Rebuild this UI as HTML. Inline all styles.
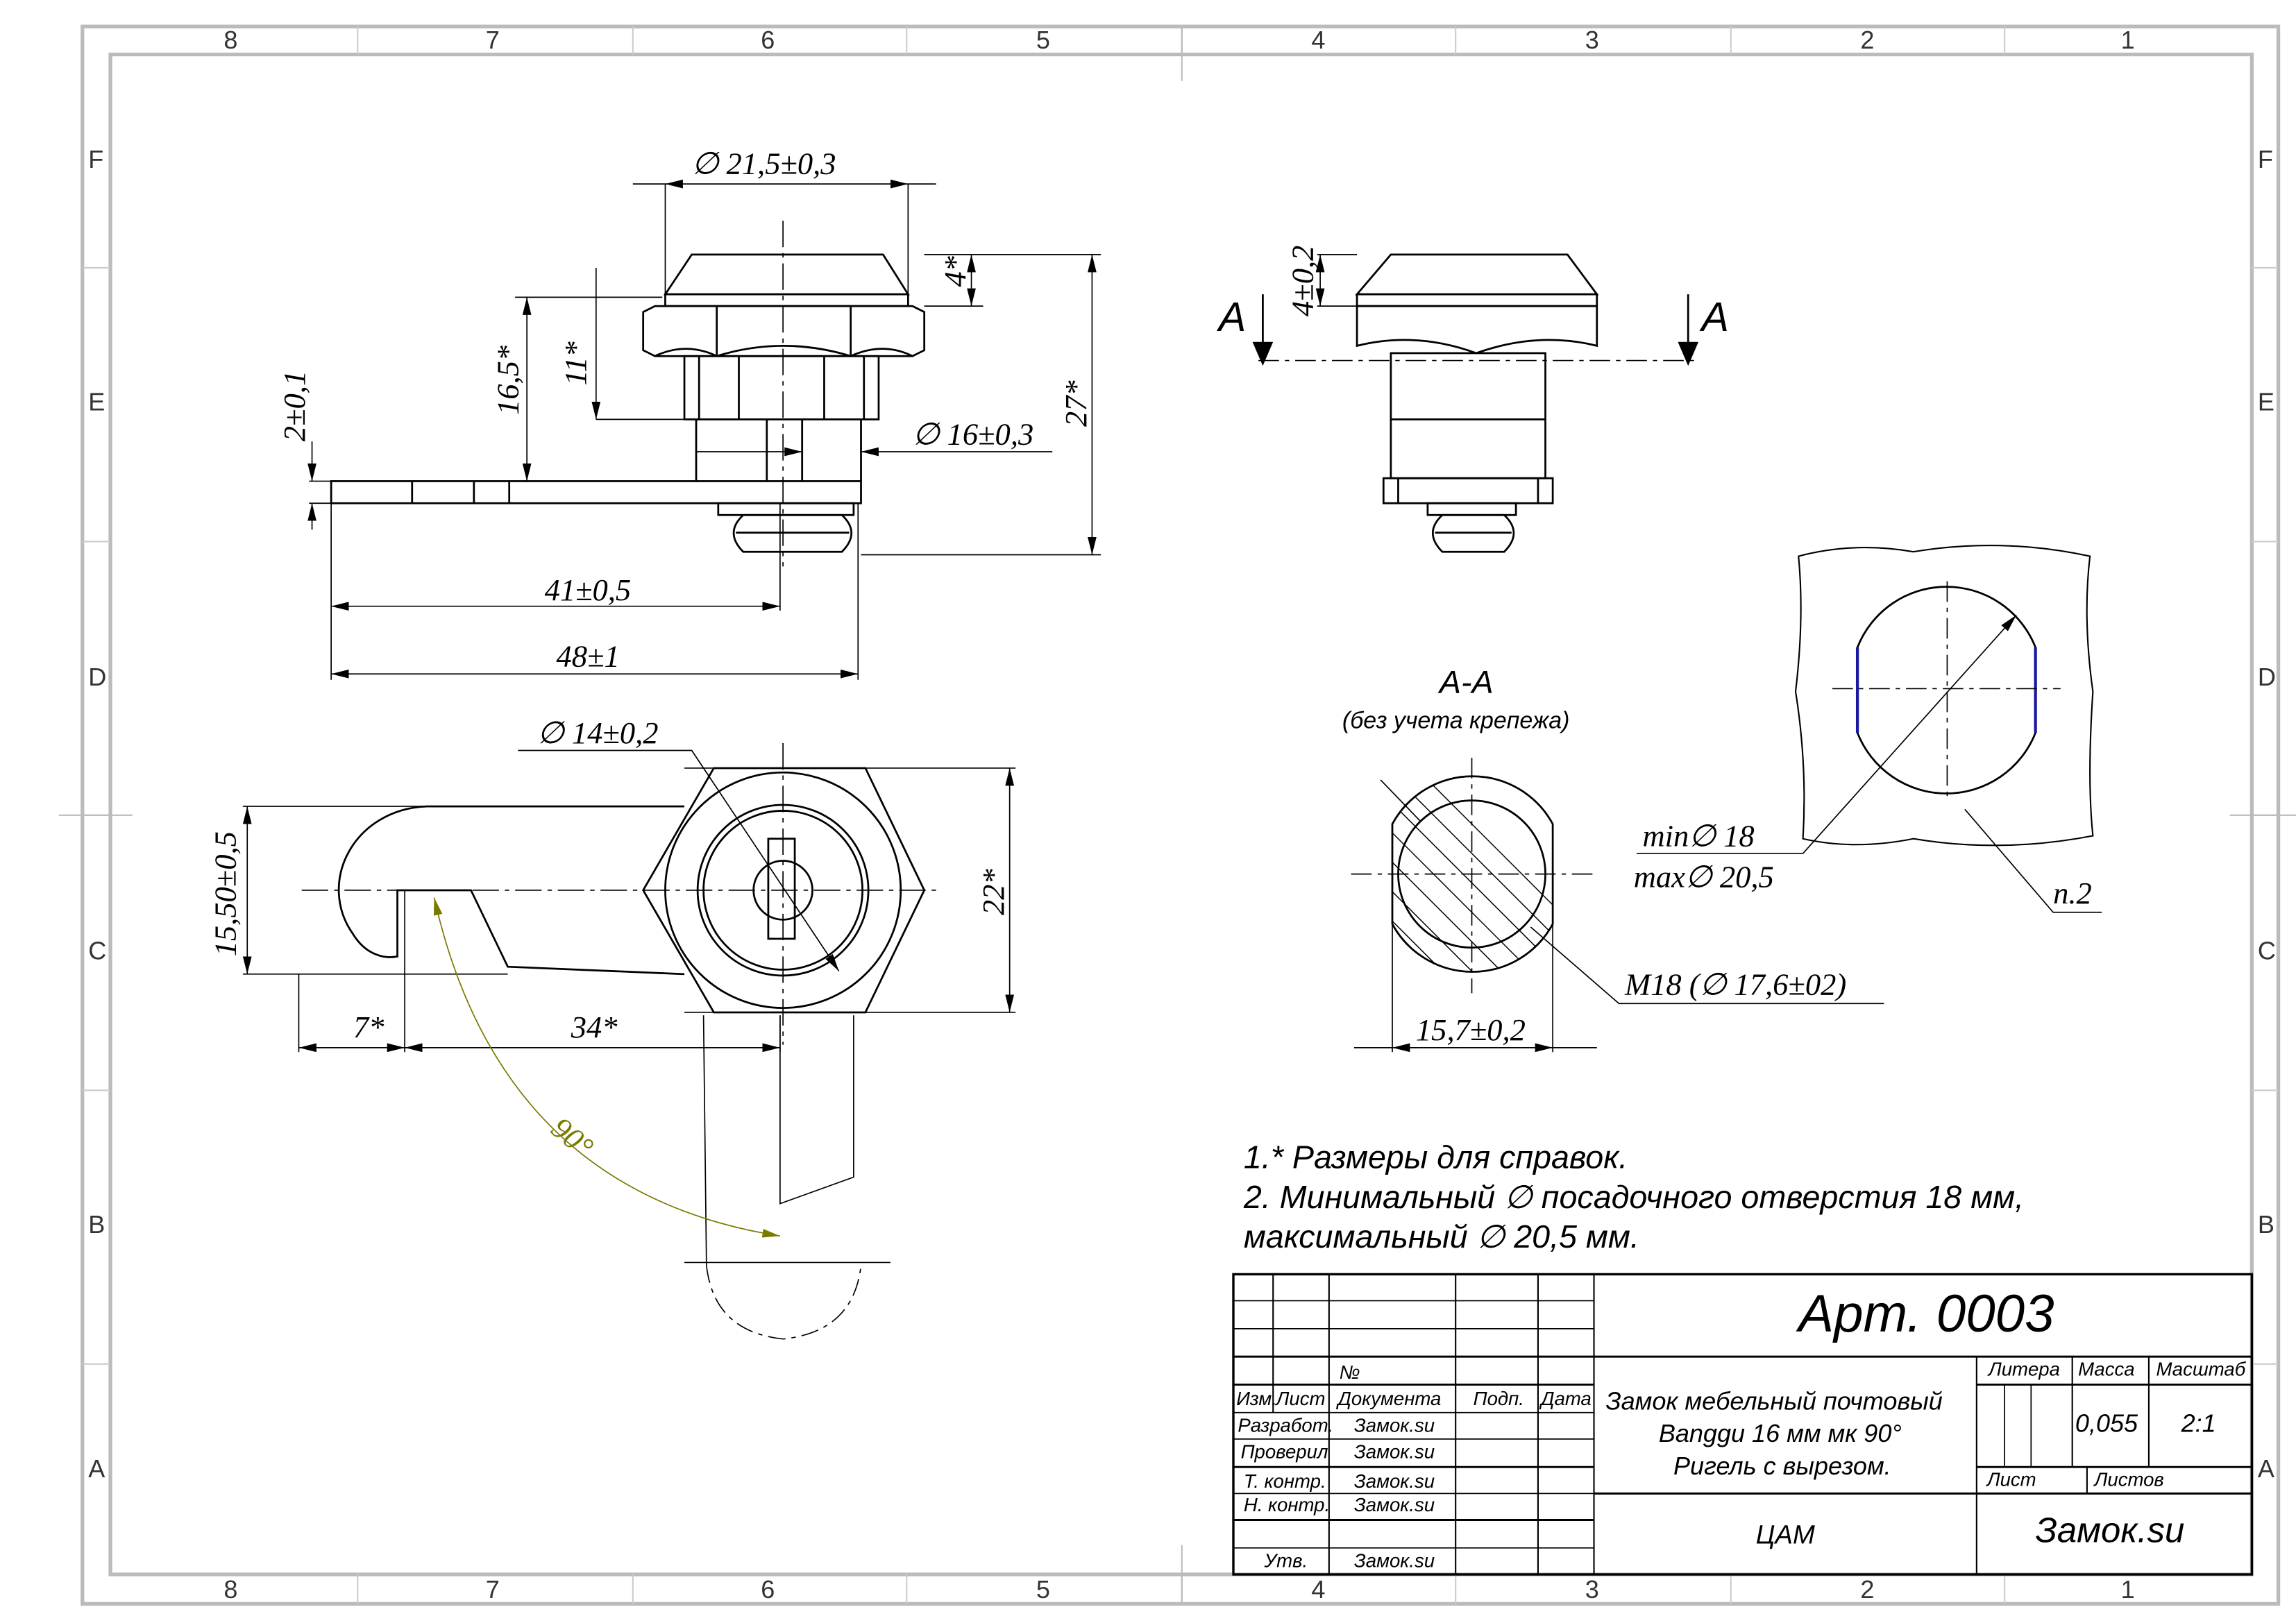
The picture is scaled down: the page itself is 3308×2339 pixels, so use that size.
<!DOCTYPE html>
<html><head><meta charset="utf-8"><style>
html,body{margin:0;padding:0;background:#fff;}
svg{display:block;}
text{font-family:"Liberation Sans",sans-serif;font-style:italic;fill:#000;}
.d{font-family:"Liberation Serif",serif;font-style:italic;font-size:21px;}
.z{font-style:normal;font-size:17px;fill:#333;}
.t{font-size:13px;}
</style></head><body>
<svg width="3308" height="2339" viewBox="0 0 1560 1103" xmlns="http://www.w3.org/2000/svg">
<defs>
<marker id="ar" markerWidth="12" markerHeight="6" refX="12" refY="3" orient="auto-start-reverse" markerUnits="userSpaceOnUse"><path d="M0 0L12 3L0 6Z" fill="#000"/></marker>
<marker id="ag" markerWidth="12" markerHeight="6" refX="12" refY="3" orient="auto-start-reverse" markerUnits="userSpaceOnUse"><path d="M0 0L12 3L0 6Z" fill="#7a7a00"/></marker>
</defs>
<rect width="1560" height="1103" fill="#fff"/>
<g fill="none" stroke="#bbb" stroke-width="2.5">
<rect x="56" y="18" width="1492" height="1072"/>
<rect x="75" y="37" width="1455" height="1033"/>
</g>
<g stroke="#ccc" stroke-width="1">
<path d="M243 18V37M430 18V37M616 18V37M803 18V37M989 18V37M1176 18V37M1362 18V37"/>
<path d="M243 1070V1090M430 1070V1090M616 1070V1090M803 1070V1090M989 1070V1090M1176 1070V1090M1362 1070V1090"/>
<path d="M56 182H75M56 368H75M56 554H75M56 741H75M56 927H75M1530 182H1548M1530 368H1548M1530 554H1548M1530 741H1548M1530 927H1548"/>
<path d="M803 18V55M803 1050V1090M40 554H90M1515 554H1560" stroke="#bbb"/>
</g>
<g class="z">
<text x="152" y="33" class="z">8</text><text x="330" y="33" class="z">7</text><text x="517" y="33" class="z">6</text><text x="704" y="33" class="z">5</text><text x="891" y="33" class="z">4</text><text x="1077" y="33" class="z">3</text><text x="1264" y="33" class="z">2</text><text x="1441" y="33" class="z">1</text>
<text x="152" y="1086" class="z">8</text><text x="330" y="1086" class="z">7</text><text x="517" y="1086" class="z">6</text><text x="704" y="1086" class="z">5</text><text x="891" y="1086" class="z">4</text><text x="1077" y="1086" class="z">3</text><text x="1264" y="1086" class="z">2</text><text x="1441" y="1086" class="z">1</text>
<text x="60" y="114" class="z">F</text><text x="60" y="279" class="z">E</text><text x="60" y="466" class="z">D</text><text x="60" y="652" class="z">C</text><text x="60" y="838" class="z">B</text><text x="60" y="1004" class="z">A</text>
<text x="1534" y="114" class="z">F</text><text x="1534" y="279" class="z">E</text><text x="1534" y="466" class="z">D</text><text x="1534" y="652" class="z">C</text><text x="1534" y="838" class="z">B</text><text x="1534" y="1004" class="z">A</text>
</g>

<!-- Top-left view -->
<g fill="none" stroke="#000" stroke-width="1.3">
<path d="M452 200L470 173H600L617 200Z"/>
<rect x="452" y="200" width="165" height="8"/>
<path d="M437 212L445 208H620L628 212V238L620 242H445L437 238Z"/>
<path d="M487 208V242M578 208V242"/>
<path d="M445 242Q466 232 487 242Q532 228 578 242Q600 232 620 242"/>
<rect x="465" y="242" width="132" height="43"/>
<path d="M475 242V285M502 242V285M560 242V285M587 242V285"/>
<path d="M473 285V327M521 285V327M545 285V327M585 285V327"/>
<rect x="225" y="327" width="360" height="15"/>
<path d="M280 327V342M322 327V342M346 327V342"/>
<rect x="488" y="342" width="92" height="8"/>
<path d="M505 350H572Q585 362 572 375H505Q492 362 505 350Z M500 362H577"/>
</g>
<g stroke="#000" stroke-width="0.8" fill="none">
<path d="M532 150V385" stroke-dasharray="18 4 3 4"/>
<path d="M452 125V200M617 125V200"/>
<path d="M430 125H452M617 125H636"/>
<path d="M452 125H617" marker-start="url(#ar)" marker-end="url(#ar)"/>
<path d="M628 173H748M628 208H668"/>
<path d="M660 173V208" marker-start="url(#ar)" marker-end="url(#ar)"/>
<path d="M742 173V377" marker-start="url(#ar)" marker-end="url(#ar)"/>
<path d="M585 377H748M350 202H450M405 285H470M210 327H225M210 342H225"/>
<path d="M358 202V327" marker-start="url(#ar)" marker-end="url(#ar)"/>
<path d="M405 182V202M405 202V285" marker-end="url(#ar)"/>
<path d="M212 300V327" marker-end="url(#ar)"/>
<path d="M212 360V342" marker-end="url(#ar)"/>
<path d="M715 307H585" marker-end="url(#ar)"/>
<path d="M545 307H473" marker-start="url(#ar)"/>
<path d="M225 342V462M583 342V462M530 342V415"/>
<path d="M225 412H530" marker-start="url(#ar)" marker-end="url(#ar)"/>
<path d="M225 458H583" marker-start="url(#ar)" marker-end="url(#ar)"/>
</g>
<text class="d" x="470" y="118">∅ 21,5±0,3</text>
<text class="d" transform="translate(656,195) rotate(-90)">4*</text>
<text class="d" transform="translate(738,290) rotate(-90)">27*</text>
<text class="d" transform="translate(352,282) rotate(-90)">16,5*</text>
<text class="d" transform="translate(398,262) rotate(-90)">11*</text>
<text class="d" transform="translate(207,300) rotate(-90)">2±0,1</text>
<text class="d" x="620" y="302">∅ 16±0,3</text>
<text class="d" x="370" y="408">41±0,5</text>
<text class="d" x="378" y="453">48±1</text>

<!-- Top-right view -->
<g fill="none" stroke="#000" stroke-width="1.3">
<path d="M922 200L945 173H1065L1085 200Z"/>
<rect x="922" y="200" width="163" height="8"/>
<path d="M922 208H1085V235Q1045 225 1003 240Q962 225 922 235Z"/>
<rect x="945" y="240" width="105" height="85"/>
<path d="M945 285H1050"/>
<rect x="940" y="325" width="115" height="17"/>
<path d="M950 325V342M1045 325V342"/>
<rect x="970" y="342" width="60" height="8"/>
<path d="M980 350H1022Q1035 362 1022 375H980Q967 362 980 350Z M975 362H1027"/>
</g>
<path d="M855 245H1155" stroke="#000" stroke-width="0.8" stroke-dasharray="14 4 3 4"/>
<path d="M895 173H922M895 208H922" stroke="#000" stroke-width="0.8"/>
<path d="M897 173V208" stroke="#000" stroke-width="0.8" marker-start="url(#ar)" marker-end="url(#ar)"/>
<path d="M858 200V245M1147 200V245M852 233L858 247L864 233ZM1141 233L1147 247L1153 233Z" stroke="#000" stroke-width="1.3" fill="#000"/>
<text x="828" y="225" style="font-size:28px">A</text>
<text x="1156" y="225" style="font-size:28px">A</text>
<text class="d" transform="translate(892,215) rotate(-90)">4±0,2</text>

<!-- Bottom-left view -->
<g fill="none" stroke="#000" stroke-width="1.3">
<polygon points="437,605 485,522 588,522 628,605 588,688 485,688"/>
<circle cx="532" cy="605" r="80"/>
<circle cx="532" cy="605" r="58"/>
<circle cx="532" cy="605" r="54"/>
<circle cx="532" cy="605" r="20"/>
<rect x="522" y="570" width="18" height="68"/>
<path d="M465 548L290 548C240 550 215 600 240 635C248 648 260 652 270 650V605H320L345 657L465 662"/>
</g>
<g stroke="#000" stroke-width="0.8" fill="none">
<path d="M205 605H640M532 505V710" stroke-dasharray="18 4 3 4"/>
<path d="M165 548H290M165 662H345M465 522H690M465 688H690"/>
<path d="M168 548V662" marker-start="url(#ar)" marker-end="url(#ar)"/>
<path d="M686 522V688" marker-start="url(#ar)" marker-end="url(#ar)"/>
<path d="M352 510H470L570 660" marker-end="url(#ar)"/>
<path d="M203 712H275" marker-start="url(#ar)" marker-end="url(#ar)"/>
<path d="M275 712H530" marker-start="url(#ar)" marker-end="url(#ar)"/>
<path d="M203 662V715M275 605V715M530 690V715"/>
<path d="M478 690L480 860M530 690V818L580 800V690M465 858H605"/>
<path d="M480 860Q485 905 532 910Q580 905 585 860" stroke-dasharray="12 4 3 4"/>
<path d="M295 610Q340 810 530 840" stroke="#7a7a00" marker-start="url(#ag)" marker-end="url(#ag)"/>
</g>
<text class="d" x="365" y="505">∅ 14±0,2</text>
<text class="d" transform="translate(160,650) rotate(-90)">15,50±0,5</text>
<text class="d" transform="translate(682,622) rotate(-90)">22*</text>
<text class="d" x="240" y="705">7*</text>
<text class="d" x="388" y="705">34*</text>
<text class="d" x="372" y="778" transform="rotate(40 385 775)" style="fill:#7a7a00">90°</text>

<!-- Section A-A -->
<text x="978" y="471" style="font-size:22px">А-А</text>
<text x="912" y="495" style="font-size:16px">(без учета крепежа)</text>
<defs><clipPath id="c1"><path d="M946 560A62 62 0 0 1 1055 560V628A62 62 0 0 1 946 628Z"/></clipPath></defs>
<g clip-path="url(#c1)" stroke="#000" stroke-width="0.7">
<path d="M900 540L1060 700M910 530L1070 690M920 520L1080 680M930 510L1090 670M890 550L1050 710M880 560L1040 720M870 570L1030 730M860 580L1020 740M940 500L1100 660"/>
</g>
<circle cx="1000" cy="594" r="50" fill="none" stroke="#000" stroke-width="1.3"/>
<path d="M946 560A62 62 0 0 1 1055 560V628A62 62 0 0 1 946 628Z" fill="none" stroke="#000" stroke-width="1.3"/>
<g stroke="#000" stroke-width="0.8" fill="none">
<path d="M918 594H1082M1000 515V675" stroke-dasharray="14 4 3 4"/>
<path d="M946 628V715M1055 628V715M920 712H946M1055 712H1085"/>
<path d="M946 712H1055" marker-start="url(#ar)" marker-end="url(#ar)"/>
<path d="M938 530L965 558M1040 630L1100 682H1280"/>
</g>
<text class="d" x="962" y="707">15,7±0,2</text>
<text class="d" x="1104" y="676">M18 (∅ 17,6±02)</text>

<!-- Detail -->
<path d="M1222 378Q1260 368 1300 375Q1360 365 1420 378Q1415 420 1422 470Q1418 530 1422 568Q1360 580 1300 570Q1260 578 1225 570Q1228 520 1220 470Q1226 420 1222 378Z" fill="none" stroke="#000" stroke-width="1"/>
<path d="M1262 440A65 65 0 0 1 1383 440V498A65 65 0 0 1 1262 498Z" fill="none" stroke="#000" stroke-width="1.3"/>
<path d="M1262 440V498M1383 440V498" stroke="#1a1aa0" stroke-width="2"/>
<g stroke="#000" stroke-width="0.8" fill="none">
<path d="M1245 468H1400M1323 395V545" stroke-dasharray="14 4 3 4"/>
<path d="M1225 580L1370 418" marker-end="url(#ar)"/>
<path d="M1225 580L1112 580"/>
<path d="M1335 550L1395 620H1428"/>
</g>
<text class="d" x="1116" y="575">min∅ 18</text>
<text class="d" x="1110" y="603">max∅ 20,5</text>
<text class="d" x="1395" y="614">п.2</text>

<!-- Notes -->
<text x="845" y="794" style="font-size:22px">1.* Размеры для справок.</text>
<text x="845" y="821" style="font-size:22px">2. Минимальный ∅ посадочного отверстия 18 мм,</text>
<text x="845" y="848" style="font-size:22px">максимальный ∅ 20,5 мм.</text>

<!-- Title block -->
<g stroke="#000" fill="none">
<rect x="838" y="866" width="692" height="204" stroke-width="1.6"/>
<path d="M838 884H1083M838 903H1083M838 941H1083M838 960H1083M838 978H1083M838 1015H1083M838 1052H1083" stroke-width="0.8"/>
<path d="M838 922H1530M838 941H1083M838 997H1083M838 1033H1083M1083 1015H1530M1343 941H1530M1343 997H1530" stroke-width="1.4"/>
<path d="M865 866V960M903 866V1070M989 866V1070M1045 866V1070M1083 866V1070M1343 922V1070M1408 922V997M1460 922V997M1418 997V1015" stroke-width="1"/>
<path d="M1362 941V997M1380 941V997" stroke-width="0.8"/>
</g>
<text x="1222" y="905" style="font-size:36px">Арт. 0003</text>
<g class="t">
<text x="910" y="937" class="t">№</text>
<text x="840" y="955" class="t">Изм.</text><text x="867" y="955" class="t">Лист</text><text x="909" y="955" class="t">Документа</text><text x="1001" y="955" class="t">Подп.</text><text x="1047" y="955" class="t">Дата</text>
<text x="841" y="973" class="t">Разработ.</text><text x="920" y="973" class="t">Замок.su</text>
<text x="843" y="991" class="t">Проверил</text><text x="920" y="991" class="t">Замок.su</text>
<text x="845" y="1011" class="t">Т. контр.</text><text x="920" y="1011" class="t">Замок.su</text>
<text x="845" y="1027" class="t">Н. контр.</text><text x="920" y="1027" class="t">Замок.su</text>
<text x="859" y="1065" class="t">Утв.</text><text x="920" y="1065" class="t">Замок.su</text>
<text x="1351" y="935" class="t">Литера</text><text x="1412" y="935" class="t">Масса</text><text x="1465" y="935" class="t">Масштаб</text>
<text x="1350" y="1010" class="t">Лист</text><text x="1423" y="1010" class="t">Листов</text>
</g>
<text x="1091" y="958" style="font-size:17px">Замок мебельный почтовый</text>
<text x="1127" y="980" style="font-size:17px">Banggu 16 мм мк 90°</text>
<text x="1137" y="1002" style="font-size:17px">Ригель с вырезом.</text>
<text x="1410" y="973" style="font-size:17px">0,055</text>
<text x="1482" y="973" style="font-size:17px">2:1</text>
<text x="1193" y="1049" style="font-size:18px">ЦАМ</text>
<text x="1383" y="1048" style="font-size:24px">Замок.su</text>
</svg>
</body></html>
